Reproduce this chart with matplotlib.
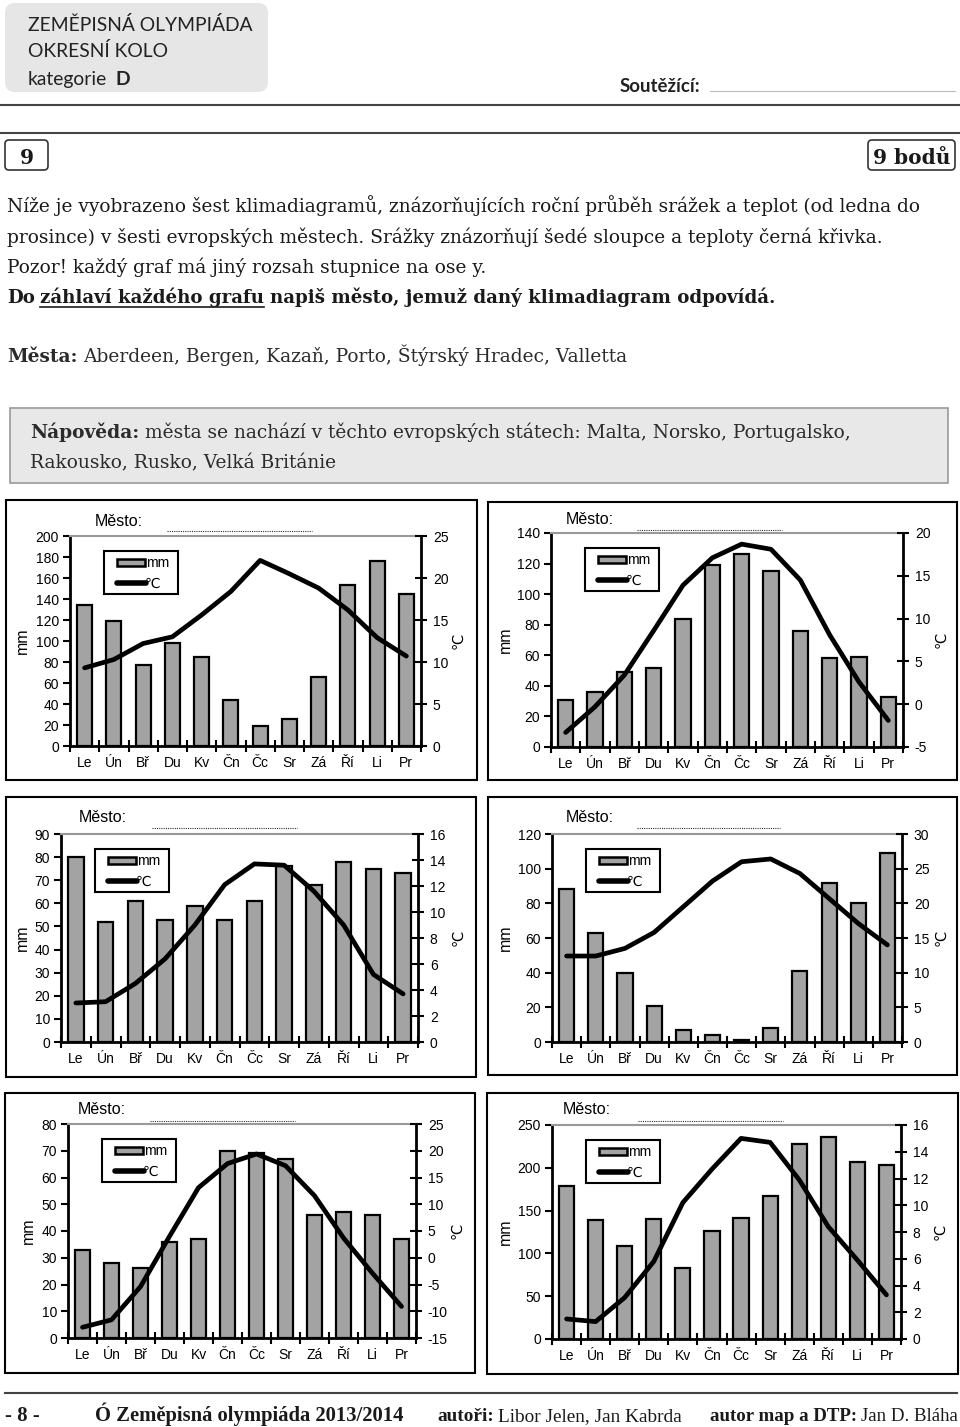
import numpy as np
import matplotlib
matplotlib.use("Agg")
import matplotlib.pyplot as plt
from matplotlib.patches import Rectangle, FancyBboxPatch

plt.rcParams["font.family"] = ["Liberation Sans", "DejaVu Sans"]
plt.rcParams["axes.unicode_minus"] = False

W, H = 960, 1427
BAR = "#a3a3a3"
SERIF = ["DejaVu Serif"]
FOOT = ["Liberation Serif", "DejaVu Serif"]
HEAD = ["Lato", "DejaVu Sans"]
INK = "#1a1a1a"

# month labels (x axis of every klimadiagram)
months = ["Le", "Ún", "Bř", "Du", "Kv", "Čn", "Čc", "Sr", "Zá", "Ří", "Li", "Pr"]

# precipitation (mm) and temperature (°C)
mm_1 = [134, 119, 77, 98, 85, 44, 19, 26, 66, 153, 176, 145]
temp_1 = [9.3, 10.3, 12.2, 13.0, 15.6, 18.4, 22.1, 20.5, 18.8, 16.2, 12.9, 10.7]
mm_2 = [31, 36, 49, 52, 84, 119, 126, 115, 76, 58, 59, 33]
temp_2 = [-3.3, -0.3, 3.4, 8.6, 13.9, 17.1, 18.7, 18.1, 14.5, 8.1, 2.6, -1.9]
mm_3 = [80, 52, 61, 53, 59, 53, 61, 76, 68, 78, 75, 73]
temp_3 = [3.0, 3.1, 4.5, 6.4, 9.0, 12.1, 13.7, 13.6, 11.6, 9.0, 5.2, 3.7]
mm_4 = [88, 63, 40, 21, 7, 4, 1, 8, 41, 92, 80, 109]
temp_4 = [12.4, 12.4, 13.5, 15.8, 19.5, 23.2, 26.0, 26.4, 24.3, 20.7, 17.1, 14.0]
mm_5 = [33, 28, 26, 36, 37, 70, 69, 67, 46, 47, 46, 37]
temp_5 = [-13.0, -11.6, -5.4, 4.0, 13.1, 17.6, 19.4, 17.2, 11.6, 3.7, -2.9, -9.1]
mm_6 = [179, 139, 109, 140, 83, 126, 141, 167, 228, 236, 207, 203]
temp_6 = [1.5, 1.3, 3.1, 5.8, 10.2, 12.7, 15.0, 14.7, 11.9, 8.4, 5.9, 3.3]

# axis scales (min, max, step)
mm_scale = [(0, 200, 20), (0, 140, 20), (0, 90, 10), (0, 120, 20), (0, 80, 10), (0, 250, 50)]
temp_scale = [(0, 25, 5), (-5, 20, 5), (0, 16, 2), (0, 30, 5), (-15, 25, 5), (0, 16, 2)]

mm_all = [mm_1, mm_2, mm_3, mm_4, mm_5, mm_6]
temp_all = [temp_1, temp_2, temp_3, temp_4, temp_5, temp_6]

# page layout in pixels: outer box, plot area, "Město" position, dotted line, mm / ℃ label x
layout = [
    dict(box=(6, 500, 477, 780), plot=(70, 536, 421, 746), mesto=(95, 521), dots=(167, 312, 531), lx=(22, 458)),
    dict(box=(488, 502, 957, 780), plot=(551, 533, 903, 747), mesto=(566, 519), dots=(637, 782, 530), lx=(505, 941)),
    dict(box=(6, 797, 476, 1077), plot=(61, 834, 418, 1042), mesto=(79, 818), dots=(152, 297, 828), lx=(22, 458)),
    dict(box=(488, 797, 957, 1075), plot=(552, 834, 902, 1042), mesto=(566, 818), dots=(637, 780, 828), lx=(505, 941)),
    dict(box=(5, 1093, 475, 1373), plot=(68, 1124, 416, 1338), mesto=(78, 1109), dots=(150, 295, 1121), lx=(28, 457)),
    dict(box=(487, 1093, 958, 1374), plot=(552, 1125, 901, 1339), mesto=(563, 1110), dots=(638, 783, 1121), lx=(505, 940)),
]

fig = plt.figure(figsize=(W / 100, H / 100), dpi=100)
page = fig.add_axes([0, 0, 1, 1])
page.set_xlim(0, W)
page.set_ylim(H, 0)
page.axis("off")
renderer = fig.canvas.get_renderer()


def runs(x, y, parts, size, family=SERIF, gap=0.3, color=INK):
    # consecutive pieces of text with own weight / underline; gap in font-size units
    for s, bold, ul in parts:
        t = page.text(x, y, s, fontsize=size, family=family, color=color,
                      fontweight="bold" if bold else "normal", va="baseline", ha="left")
        x1 = t.get_window_extent(renderer).x1
        if ul:
            page.plot([x, x1], [y + 3.5, y + 3.5], color=color, lw=1.2)
        x = x1 + gap * size * 100 / 72
    return x


def fit_size(parts, width, family, gap=0.3):
    # font size so that the runs span the given width
    ts = []
    x = 0
    for s, bold, ul in parts:
        t = page.text(x, 0, s, fontsize=10, family=family, fontweight="bold" if bold else "normal")
        x = t.get_window_extent(renderer).x1 + gap * 10 * 100 / 72
        ts.append(t)
    total = x - gap * 10 * 100 / 72
    for t in ts:
        t.remove()
    return 10 * width / total


# header
page.add_patch(FancyBboxPatch((5, 3), 263, 89, boxstyle="round,pad=0,rounding_size=10",
                              facecolor="#e6e6e6", edgecolor="none"))
hs = fit_size([("ZEMĚPISNÁ OLYMPIÁDA", False, False)], 222, HEAD)
page.text(28, 31, "ZEMĚPISNÁ OLYMPIÁDA", fontsize=hs, family=HEAD, color="#222")
page.text(28, 57, "OKRESNÍ KOLO", fontsize=hs, family=HEAD, color="#222")
runs(28, 85, [("kategorie", False, False), ("D", True, False)], hs, family=HEAD, gap=0.45, color="#222")
page.text(620, 92, "Soutěžící:", fontsize=hs * 0.97, family=HEAD, color="#222", fontweight="bold")
page.plot([710, 955], [91, 91], color="#bbbbbb", lw=0.8)
page.plot([0, W], [105, 105], color="#444", lw=1.5)
page.plot([0, W], [133, 133], color="#444", lw=1.5)

for x0, x1, label in [(5, 48, "9"), (868, 955, "9 bodů")]:
    page.add_patch(FancyBboxPatch((x0, 140), x1 - x0, 30, boxstyle="round,pad=0,rounding_size=4",
                                  facecolor="white", edgecolor="#333", lw=1.2))
    page.text((x0 + x1) / 2, 164, label, fontsize=14.5, family=SERIF, fontweight="bold",
              ha="center", va="baseline", color=INK)

# task text
line1 = "Níže je vyobrazeno šest klimadiagramů, znázorňujících roční průběh srážek a teplot (od ledna do"
fs = fit_size([(line1, False, False)], 921, SERIF)
page.text(7, 212, line1, fontsize=fs, family=SERIF, color=INK)
page.text(7, 243, "prosince) v šesti evropských městech. Srážky znázorňují šedé sloupce a teploty černá křivka.",
          fontsize=fs, family=SERIF, color=INK)
page.text(7, 273, "Pozor! každý graf má jiný rozsah stupnice na ose y.", fontsize=fs, family=SERIF, color=INK)
runs(7, 303, [("Do", True, False), ("záhlaví každého grafu", True, True),
              ("napiš město, jemuž daný klimadiagram odpovídá.", True, False)], fs * 0.98)
runs(7, 362, [("Města:", True, False), ("Aberdeen, Bergen, Kazaň, Porto, Štýrský Hradec, Valletta", False, False)],
     fs, color="#2b2b2b")

page.add_patch(Rectangle((10, 408), 938, 75, facecolor="#e8e8e8", edgecolor="#999", lw=1.2))
runs(30, 438, [("Nápověda:", True, False),
               ("města se nachází v těchto evropských státech: Malta, Norsko, Portugalsko,", False, False)],
     fs, color="#2b2b2b")
page.text(30, 468, "Rakousko, Rusko, Velká Británie", fontsize=fs, family=SERIF, color="#2b2b2b")

# overlay for the hand-made legends
over = fig.add_axes([0, 0, 1, 1], zorder=10)
over.set_xlim(0, W)
over.set_ylim(H, 0)
over.axis("off")
over.patch.set_alpha(0)

# six klimadiagrams
for i in range(6):
    L = layout[i]
    bx0, by0, bx1, by1 = L["box"]
    page.add_patch(Rectangle((bx0, by0), bx1 - bx0, by1 - by0, facecolor="white", edgecolor="black", lw=1.5))
    page.text(L["mesto"][0], L["mesto"][1], "Město:", fontsize=11.5, va="center", ha="left")
    d0, d1, dy = L["dots"]
    page.plot([d0, d1], [dy, dy], color="#333", lw=0.8, ls=(0, (1, 1)))

    px0, py0, px1, py1 = L["plot"]
    ax = fig.add_axes([px0 / W, 1 - py1 / H, (px1 - px0) / W, (py1 - py0) / H])
    ax2 = ax.twinx()
    ax.patch.set_alpha(0)

    x = np.arange(12)
    ax.bar(x, mm_all[i], width=0.52, color=BAR, edgecolor="black", linewidth=1.6, zorder=2)
    ax2.plot(x, temp_all[i], color="black", lw=3.4, solid_capstyle="round", solid_joinstyle="round")

    lo, hi, st = mm_scale[i]
    ax.set_ylim(lo, hi)
    ax.set_yticks(np.arange(lo, hi + st / 2, st))
    lo, hi, st = temp_scale[i]
    ax2.set_ylim(lo, hi)
    ax2.set_yticks(np.arange(lo, hi + st / 2, st))

    ax.set_xlim(-0.5, 11.5)
    ax.set_xticks(x)
    ax.set_xticklabels(months)
    ax.set_xticks(np.arange(-0.5, 12, 1), minor=True)
    ax.tick_params(axis="x", which="major", length=0, pad=7, labelsize=10)
    ax.tick_params(axis="x", which="minor", direction="inout", length=8, width=1.5)
    ax.tick_params(axis="y", direction="out", length=5, width=1.5, pad=3, labelsize=10)
    ax2.tick_params(axis="y", direction="inout", length=9, width=1.5, pad=4, labelsize=10)

    ax.spines["top"].set_color("#999999")
    ax.spines["top"].set_linewidth(1.5)
    ax.spines["right"].set_visible(False)
    for s in ["left", "bottom"]:
        ax.spines[s].set_linewidth(2)
    for s in ["left", "top", "bottom"]:
        ax2.spines[s].set_visible(False)
    ax2.spines["right"].set_linewidth(2)

    cy = (py0 + py1) / 2
    page.text(L["lx"][0], cy, "mm", fontsize=11.5, rotation=90, ha="center", va="center")
    page.text(L["lx"][1], cy, "℃", fontsize=10.5, rotation=90, ha="center", va="center")

    # legend box: grey bar "mm", thick line "℃"
    lx0, ly0 = px0 + 34, py0 + 15
    over.add_patch(Rectangle((lx0, ly0), 74, 43, facecolor="white", edgecolor="black", lw=1.5))
    over.add_patch(Rectangle((lx0 + 13, ly0 + 8), 28, 7, facecolor=BAR, edgecolor="black", lw=1.8))
    over.plot([lx0 + 13, lx0 + 42], [ly0 + 32, ly0 + 32], color="black", lw=4, solid_capstyle="round")
    over.text(lx0 + 42, ly0 + 12, "mm", fontsize=10, va="center", ha="left")
    over.text(lx0 + 41, ly0 + 33, "℃", fontsize=10, va="center", ha="left")

# footer
page.plot([5, 957], [1393, 1393], color="#444", lw=1.5)
foot = [
    (5, 55, [("- 8 -", True, False)]),
    (95, 310, [("Ó Zeměpisná olympiáda 2013/2014", True, False)]),
    (437, 245, [("autoři:", True, False), ("Libor Jelen, Jan Kabrda", False, False)]),
    (710, 248, [("autor map a DTP:", True, False), ("Jan D. Bláha", False, False)]),
]
for fx0, fw, parts in foot:
    size = fit_size(parts, fw, FOOT, gap=0.2)
    runs(fx0, 1421, parts, min(size, 15), family=FOOT, gap=0.2)

fig.savefig("out.png", dpi=100)
